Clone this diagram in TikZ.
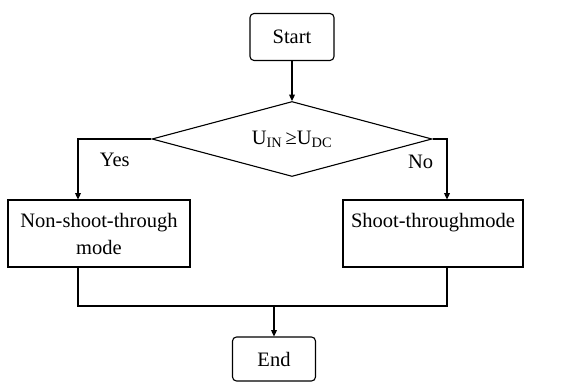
\documentclass[tikz,border=0pt]{standalone}
\usepackage{fontspec}
\setmainfont{Liberation Serif}
\usetikzlibrary{arrows.meta,positioning,shapes.geometric}

\begin{document}
\begin{tikzpicture}[x=1pt,y=-1pt,
  font=\fontsize{20.5}{27}\selectfont,
  line width=1.1pt,
  term/.style={draw,rounded corners=4pt,minimum width=84pt,minimum height=47pt},
  box/.style={draw,align=center,minimum width=182pt,minimum height=67pt},
  cond/.style={draw,diamond,aspect=3.7,inner sep=0pt,minimum width=280pt,minimum height=75pt},
  ar/.style={-{Triangle[length=2.2mm,width=2mm]}}]
\useasboundingbox (0,0) rectangle (576,382);
\node[term] (start) at (292,37) {Start};
\node[cond] (dec) at (292,139) {U\textsubscript{IN}\,≥U\textsubscript{DC}};
\node[box] (nst) at (99,233.5) {Non-shoot-through\\mode};
\node[box,minimum width=180pt] (st) at (433,233.5) {Shoot-throughmode\\\mbox{}};
\node[term,minimum width=83pt,minimum height=44pt] (end) at (274,359) {End};
\coordinate (join) at (274,306);
\draw[ar] (start) -- (dec);
\draw[ar] (dec.west) -| node[pos=0.25,below=10pt] (yes) {Yes} ([xshift=-21pt]nst.north);
\draw[ar] (dec.east) -| node[pos=0.69,left=10pt] (no) {No} ([xshift=14pt]st.north);
\draw ([xshift=-21pt]nst.south) |- (join) -| ([xshift=14pt]st.south);
\draw[ar] (join) -- (end);
\end{tikzpicture}
\end{document}
